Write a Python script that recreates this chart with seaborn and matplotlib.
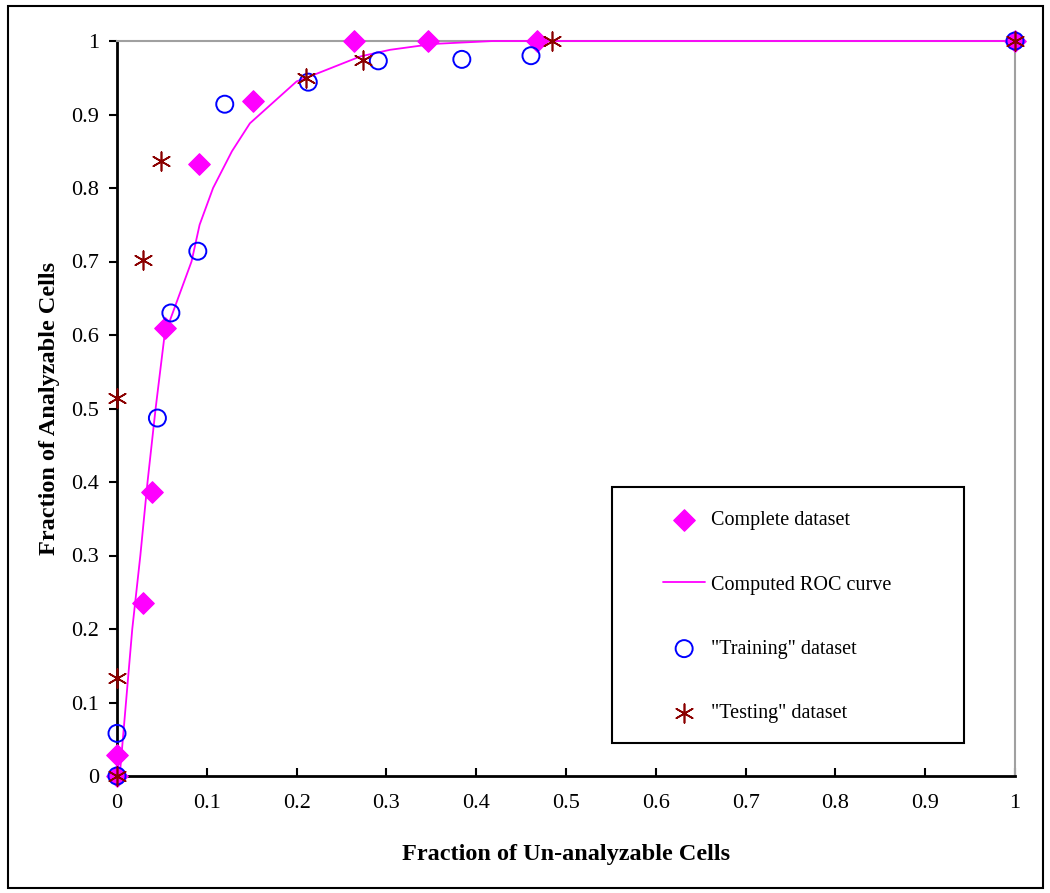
import matplotlib
matplotlib.use("Agg")
import matplotlib.pyplot as plt
import seaborn as sns
import numpy as np
import pandas as pd
from matplotlib.patches import Rectangle

sns.set_theme(style="white")
plt.rcParams['font.family'] = ['Liberation Serif', 'DejaVu Serif']
plt.rcParams['text.color'] = 'black'
plt.rcParams['axes.labelcolor'] = 'black'
plt.rcParams['xtick.color'] = 'black'
plt.rcParams['ytick.color'] = 'black'

# data
complete_x = [0.0, 0.0, 0.029, 0.039, 0.053, 0.091, 0.151, 0.264, 0.346, 0.468, 1.0]
complete_y = [0.0, 0.028, 0.235, 0.387, 0.609, 0.833, 0.918, 1.0, 1.0, 1.0, 1.0]

roc_x = [0.003, 0.010, 0.017, 0.026, 0.034, 0.043, 0.053, 0.068, 0.083, 0.092, 0.107,
         0.128, 0.148, 0.200, 0.211, 0.271, 0.304, 0.352, 0.419, 1.0]
roc_y = [0.0, 0.1, 0.2, 0.3, 0.4, 0.5, 0.6, 0.65, 0.7, 0.75, 0.8,
         0.85, 0.888, 0.945, 0.95, 0.979, 0.988, 0.996, 1.0, 1.0]

train_x = [0.0, 0.0, 0.045, 0.060, 0.090, 0.120, 0.213, 0.291, 0.384, 0.461, 1.0]
train_y = [0.0, 0.058, 0.487, 0.630, 0.714, 0.914, 0.944, 0.973, 0.975, 0.980, 1.0]

test_x = [0.0, 0.0, 0.0, 0.029, 0.049, 0.210, 0.274, 0.484, 1.0]
test_y = [0.0, 0.133, 0.514, 0.702, 0.837, 0.950, 0.974, 1.0, 1.0]

ticks = np.round(np.arange(0, 1.01, 0.1), 1)
tick_labels = ['0' if t == 0 else ('1' if t == 1 else f'{t:g}') for t in ticks]

fig = plt.figure(figsize=(10.5, 8.93), dpi=100)
ax = fig.add_axes([117 / 1050, 1 - 776 / 893, (1015 - 117) / 1050, (776 - 41) / 893])

sns.lineplot(x=roc_x, y=roc_y, ax=ax, color='#ff00ff', lw=1.3, sort=False,
             estimator=None, label='Computed ROC curve', zorder=6, clip_on=False)
sns.scatterplot(x=complete_x, y=complete_y, ax=ax, marker='D', s=120, color='#ff00ff',
                edgecolor='#ff00ff', label='Complete dataset', zorder=7, clip_on=False)
sns.scatterplot(x=train_x, y=train_y, ax=ax, marker='o', s=150, facecolors='none',
                edgecolor='#0000ff', linewidth=1.4, label='"Training" dataset', zorder=8,
                clip_on=False)
sns.scatterplot(x=test_x, y=test_y, ax=ax, marker=(6, 2, 0), s=180, color='#8b0000',
                linewidth=1.2, label='"Testing" dataset', zorder=9, clip_on=False)

ax.set_xlim(0, 1)
ax.set_ylim(0, 1)
ax.set_xticks(ticks)
ax.set_yticks(ticks)
ax.set_xticklabels(tick_labels, fontsize=16)
ax.set_yticklabels(tick_labels, fontsize=16)
ax.tick_params(axis='x', direction='in', length=6, width=1.5, color='black', pad=13)
ax.tick_params(axis='y', direction='out', length=6, width=1.5, color='black', pad=7)
ax.xaxis.set_ticks_position('bottom')
ax.yaxis.set_ticks_position('left')

for side in ['left', 'bottom']:
    ax.spines[side].set_color('black')
    ax.spines[side].set_linewidth(2)
for side in ['top', 'right']:
    ax.spines[side].set_color('#a0a0a0')
    ax.spines[side].set_linewidth(1.5)

ax.set_xlabel('Fraction of Un-analyzable Cells', fontsize=17.5, fontweight='bold', labelpad=22)
ax.set_ylabel('Fraction of Analyzable Cells', fontsize=17.5, fontweight='bold', labelpad=8)

# legend in the order shown, frame drawn separately
handles, labels = ax.get_legend_handles_labels()
order = ['Complete dataset', 'Computed ROC curve', '"Training" dataset', '"Testing" dataset']
hmap = dict(zip(labels, handles))
leg = ax.legend([hmap[l] for l in order], order, loc='upper left',
                bbox_to_anchor=((663 - 117) / 898, (776 - 511) / 735),
                fontsize=14.5, frameon=False, labelspacing=2.25, borderpad=0,
                handlelength=2.1, handletextpad=0.3, borderaxespad=0)
ax.add_patch(Rectangle(((612 - 117) / 898, (776 - 743) / 735), (964 - 612) / 898, (743 - 487) / 735,
                       transform=ax.transAxes, fill=False, edgecolor='black', lw=1.5, zorder=10))

# outer frame around the whole picture
fig.patches.append(Rectangle((8 / 1050, 5 / 893), 1035 / 1050, 882 / 893,
                             transform=fig.transFigure, fill=False, edgecolor='black', lw=1.5))

fig.savefig('out.png', dpi=100)
